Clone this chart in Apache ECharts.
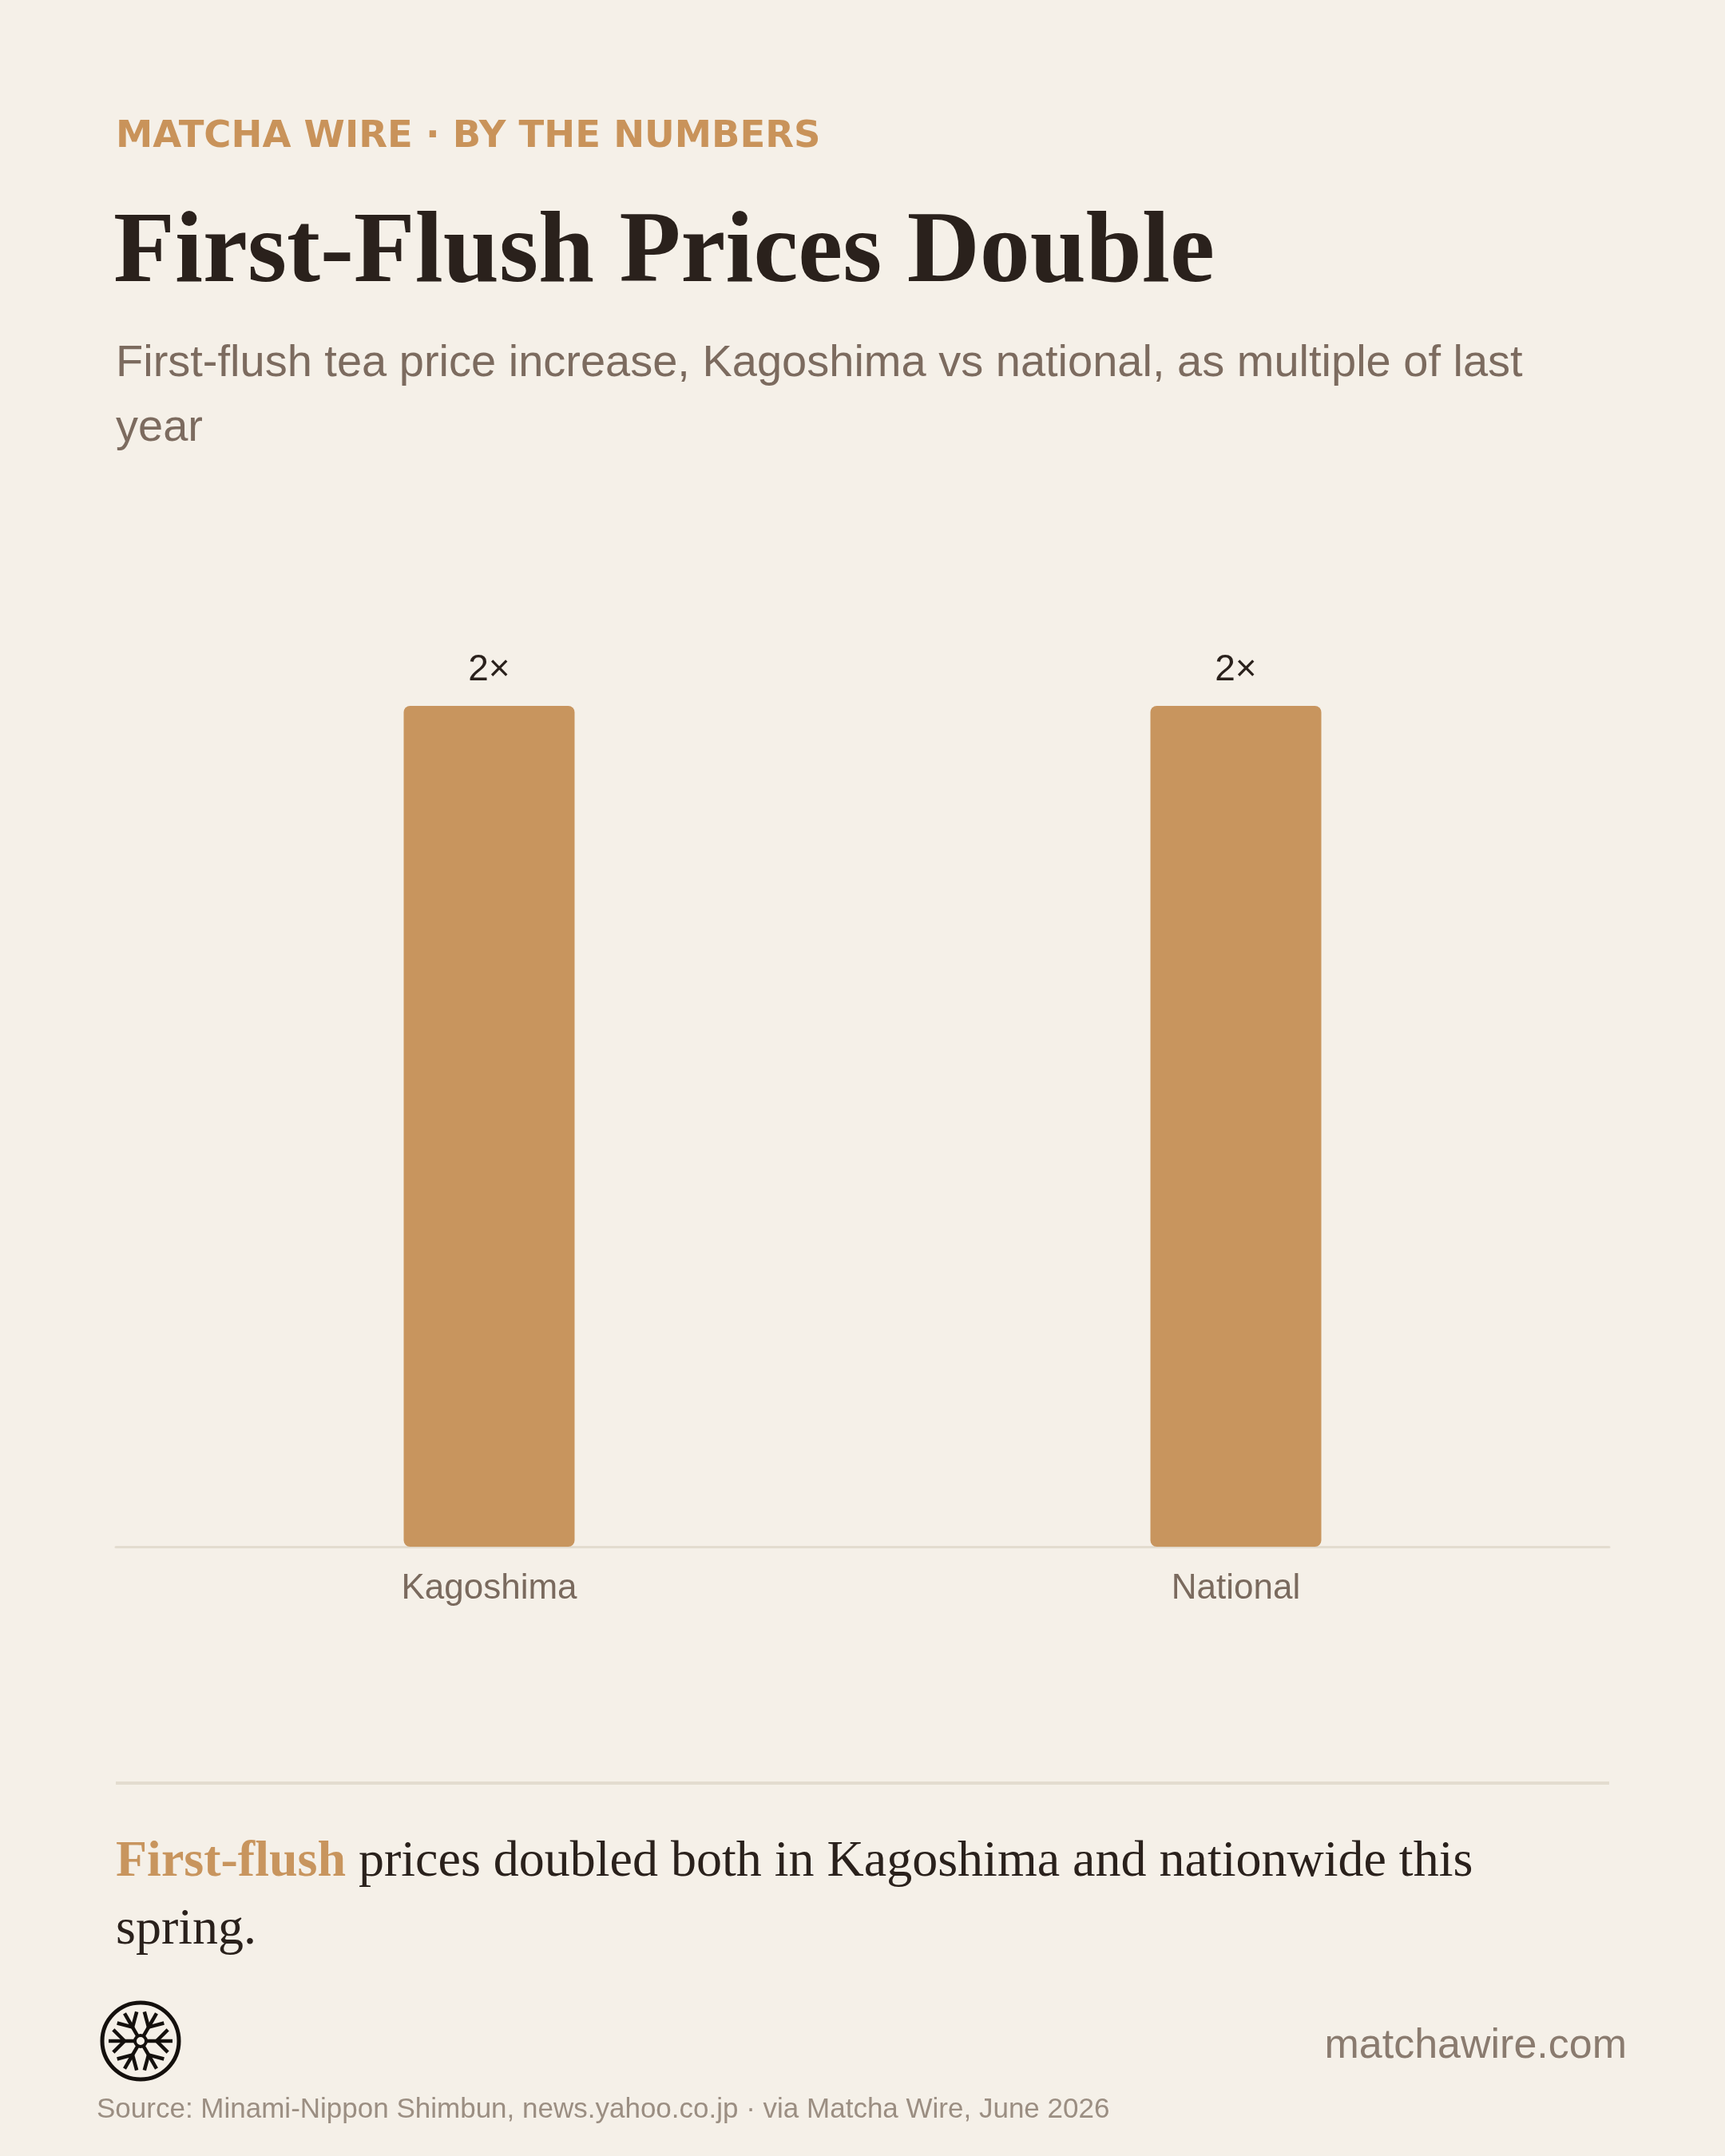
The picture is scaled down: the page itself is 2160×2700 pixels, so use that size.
<!DOCTYPE html>
<html>
<head>
<meta charset="utf-8">
<title>First-Flush Prices Double</title>
<script src="https://cdn.jsdelivr.net/npm/echarts@6/dist/echarts.min.js"></script>
<style>
  html, body { margin: 0; padding: 0; background: #f5f0e8; }
  #chart { width: 2160px; height: 2700px; }
</style>
</head>
<body>
<div id="chart"></div>
<script>
// data
const categories = ['Kagoshima', 'National'];
const multiples = [2, 2];
const yMax = 2;

const SANS = '"Liberation Sans", Arial, sans-serif';
const SERIF = '"Liberation Serif", "Times New Roman", serif';
const BG = '#f5f0e8';
const ACCENT = '#c8955e';
const INK = '#2a211c';

// little tea-wheel logo, drawn as lines around a centre point
function logo(cx, cy) {
  const parts = [
    { type: 'circle', shape: { cx: cx, cy: cy, r: 48 }, style: { fill: 'none', stroke: '#14100d', lineWidth: 5 } }
  ];
  for (let k = 0; k < 6; k++) {
    const a = k * Math.PI / 3;
    const dx = Math.cos(a), dy = Math.sin(a);
    parts.push({ type: 'line', shape: { x1: cx, y1: cy, x2: cx + dx * 40, y2: cy + dy * 40 }, style: { stroke: '#14100d', lineWidth: 4.5 } });
    [-1, 1].forEach(function (s) {
      const b = a + s * Math.PI / 4;
      const bx = cx + dx * 20, by = cy + dy * 20;
      parts.push({ type: 'line', shape: { x1: bx, y1: by, x2: bx + Math.cos(b) * 20, y2: by + Math.sin(b) * 20 }, style: { stroke: '#14100d', lineWidth: 4.5 } });
    });
  }
  parts.push({ type: 'circle', shape: { cx: cx, cy: cy, r: 7 }, style: { fill: BG, stroke: '#14100d', lineWidth: 4 } });
  return { type: 'group', children: parts };
}

const chart = echarts.init(document.getElementById('chart'));

const option = {
  backgroundColor: BG,
  animation: false,
  grid: { left: 145, right: 145, top: 884, bottom: 763 },
  xAxis: {
    type: 'category',
    data: categories,
    axisLine: { lineStyle: { color: '#e3dccf', width: 3 } },
    axisTick: { show: false },
    axisLabel: { color: '#7a6a5e', fontSize: 44, fontFamily: SANS, margin: 31 }
  },
  yAxis: { type: 'value', min: 0, max: yMax, show: false },
  series: [{
    type: 'bar',
    data: multiples,
    barWidth: 214,
    itemStyle: { color: ACCENT, borderRadius: 8 },
    label: {
      show: true,
      position: 'top',
      distance: 22,
      formatter: '{c}×',
      color: INK,
      fontSize: 46,
      fontFamily: SANS
    }
  }],
  graphic: [
    {
      type: 'text', x: 145, y: 172,
      style: { text: 'MATCHA WIRE · BY THE NUMBERS', fill: '#c9935a', fontSize: 46.5, fontWeight: 'bold', fontFamily: '"DejaVu Sans", sans-serif', verticalAlign: 'middle' }
    },
    {
      type: 'text', x: 142, y: 319,
      style: { text: 'First-Flush Prices Double', fill: INK, fontSize: 126, fontWeight: 'bold', fontFamily: SERIF, verticalAlign: 'middle' }
    },
    {
      type: 'text', x: 145, y: 415,
      style: { text: 'First-flush tea price increase, Kagoshima vs national, as multiple of last\nyear', fill: '#7c6b5f', fontSize: 56, lineHeight: 81, fontFamily: SANS, verticalAlign: 'top' }
    },
    {
      type: 'rect', shape: { x: 145, y: 2231, width: 1870, height: 4 }, style: { fill: '#e3dccf' }
    },
    {
      type: 'text', x: 145, y: 2290,
      style: {
        text: '{hl|First-flush}{tx| prices doubled both in Kagoshima and nationwide this}\n{tx|spring.}',
        verticalAlign: 'top',
        rich: {
          hl: { fill: ACCENT, fontSize: 64, fontWeight: 'bold', fontFamily: SERIF, lineHeight: 85 },
          tx: { fill: INK, fontSize: 64, fontFamily: SERIF, lineHeight: 85 }
        }
      }
    },
    logo(176, 2556),
    {
      type: 'text', x: 2037, y: 2563,
      style: { text: 'matchawire.com', fill: '#8a7b6f', fontSize: 52, fontFamily: SANS, align: 'right', verticalAlign: 'middle' }
    },
    {
      type: 'text', x: 121, y: 2642,
      style: { text: 'Source: Minami-Nippon Shimbun, news.yahoo.co.jp · via Matcha Wire, June 2026', fill: '#9b8e82', fontSize: 35, fontFamily: SANS, verticalAlign: 'middle' }
    }
  ]
};

chart.setOption(option);
window.onresize = function () { chart.resize(); };
</script>
</body>
</html>
